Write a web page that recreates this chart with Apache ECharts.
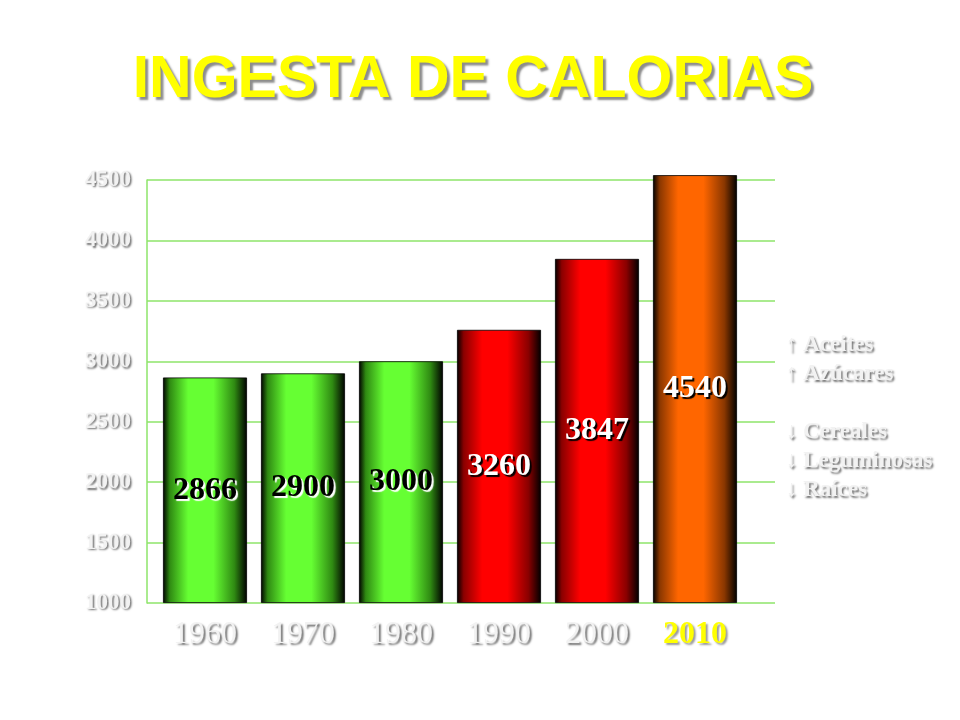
<!DOCTYPE html>
<html>
<head>
<meta charset="utf-8">
<script src="https://cdn.jsdelivr.net/npm/echarts@6/dist/echarts.min.js"></script>
<style>html,body{margin:0;padding:0;background:#fff}#c{width:960px;height:720px}</style>
</head>
<body>
<div id="c"></div>
<script>
// ---- data ----
const years = ['1960', '1970', '1980', '1990', '2000', '2010'];
const calories = [2866, 2900, 3000, 3260, 3847, 4540];
const yTicks = [1000, 1500, 2000, 2500, 3000, 3500, 4000, 4500];
const sideNotes = ['↑ Aceites', '↑ Azúcares', '', '↓ Cereales', '↓ Leguminosas', '↓ Raíces'];
const titleText = 'INGESTA DE CALORIAS';

// ---- styling ----
function grad(bright, mid) {
  return new echarts.graphic.LinearGradient(0, 0, 1, 0, [
    { offset: 0, color: '#000' },
    { offset: 0.08, color: mid },
    { offset: 0.3, color: bright },
    { offset: 0.6, color: bright },
    { offset: 0.85, color: mid },
    { offset: 1, color: '#000' }
  ]);
}
const themes = {
  green: { fill: () => grad('#66ff33', '#2f8a12'), text: '#000', shadow: '#fff' },
  red: { fill: () => grad('#ff0000', '#8a0000'), text: '#fff', shadow: '#000' },
  orange: { fill: () => grad('#ff6600', '#8a3700'), text: '#fff', shadow: '#000' }
};
function themeFor(i) { return i < 3 ? themes.green : (i < 5 ? themes.red : themes.orange); }

const emboss = {
  color: '#f2f2f2',
  textShadowColor: 'rgba(0,0,0,0.55)',
  textShadowBlur: 2,
  textShadowOffsetX: 1.5,
  textShadowOffsetY: 1.5
};

const gridLine = '#8ee46a';
const yMin = yTicks[0], yMax = yTicks[yTicks.length - 1], yStep = yTicks[1] - yTicks[0];
// the bar grid reaches a bit higher so the tallest bar is not clipped; same px/unit scale
const plotTop = 180, plotBottom = 117, plotH = 720 - plotTop - plotBottom;
const barMax = yMax + 200;
const barTop = 720 - plotBottom - plotH * (barMax - yMin) / (yMax - yMin);

const chart = echarts.init(document.getElementById('c'), null, { renderer: 'canvas' });

// bars are measured from the axis floor (yMin) on the bar axis
const barData = calories.map((v, i) => {
  const t = themeFor(i);
  return {
    value: v - yMin,
    itemStyle: { color: t.fill(), borderColor: '#000', borderWidth: 0.8 },
    label: {
      color: t.text,
      textShadowColor: t.shadow,
      textShadowOffsetX: 2,
      textShadowOffsetY: 2,
      textShadowBlur: 1
    }
  };
});

const noteLineH = 29;
const graphics = sideNotes.map((s, i) => ({
  type: 'text',
  left: 786,
  top: 334 + i * noteLineH,
  style: {
    text: s,
    fill: emboss.color,
    font: 'bold 23px "Liberation Serif"',
    textShadowColor: emboss.textShadowColor,
    textShadowBlur: emboss.textShadowBlur,
    textShadowOffsetX: emboss.textShadowOffsetX,
    textShadowOffsetY: emboss.textShadowOffsetY
  }
}));

chart.setOption({
  backgroundColor: '#fff',
  animation: false,
  title: {
    text: titleText,
    left: 468,
    textAlign: 'center',
    top: 46,
    textStyle: {
      color: '#ffff00',
      fontFamily: 'Liberation Sans',
      fontWeight: 'bold',
      fontSize: 59,
      textShadowColor: 'rgba(0,0,0,0.45)',
      textShadowBlur: 2,
      textShadowOffsetX: 3,
      textShadowOffsetY: 3
    }
  },
  graphic: graphics,
  grid: [
    { left: 147, right: 185, top: plotTop, bottom: plotBottom },
    { left: 156, right: 216, top: barTop, bottom: plotBottom }
  ],
  xAxis: [
    { gridIndex: 0, type: 'value', show: false, min: 0, max: 1 },
    {
      gridIndex: 1, type: 'category', data: years,
      axisLine: { show: false }, axisTick: { show: false },
      axisLabel: {
        interval: 0,
        hideOverlap: false,
        margin: 16,
        fontSize: 32,
        fontFamily: 'Liberation Serif',
        color: emboss.color,
        textShadowColor: emboss.textShadowColor,
        textShadowBlur: emboss.textShadowBlur,
        textShadowOffsetX: 2,
        textShadowOffsetY: 2,
        formatter: (v) => v === years[years.length - 1] ? '{hl|' + v + '}' : v,
        rich: {
          hl: {
            color: '#ffff00', fontWeight: 'bold', fontSize: 32, fontFamily: 'Liberation Serif',
            textShadowColor: 'rgba(0,0,0,0.4)', textShadowBlur: 2, textShadowOffsetX: 2, textShadowOffsetY: 2
          }
        }
      }
    }
  ],
  yAxis: [
    {
      gridIndex: 0, type: 'value', min: yMin, max: yMax, interval: yStep,
      axisLine: { show: true, lineStyle: { color: gridLine, width: 1.5 } },
      axisTick: { show: false },
      splitLine: { show: true, lineStyle: { color: gridLine, width: 1.5 } },
      axisLabel: {
        margin: 16,
        fontSize: 23,
        fontWeight: 'bold',
        fontFamily: 'Liberation Serif',
        formatter: (v) => String(v),
        color: emboss.color,
        textShadowColor: emboss.textShadowColor,
        textShadowBlur: emboss.textShadowBlur,
        textShadowOffsetX: emboss.textShadowOffsetX,
        textShadowOffsetY: emboss.textShadowOffsetY
      }
    },
    { gridIndex: 1, type: 'value', min: 0, max: barMax - yMin, show: false, splitLine: { show: false } }
  ],
  series: [
    {
      type: 'bar',
      xAxisIndex: 1, yAxisIndex: 1,
      data: barData,
      barWidth: 84,
      label: {
        show: true,
        position: 'inside',
        fontFamily: 'Liberation Serif',
        fontWeight: 'bold',
        fontSize: 32,
        formatter: (p) => String(calories[p.dataIndex])
      }
    }
  ]
});
</script>
</body>
</html>
